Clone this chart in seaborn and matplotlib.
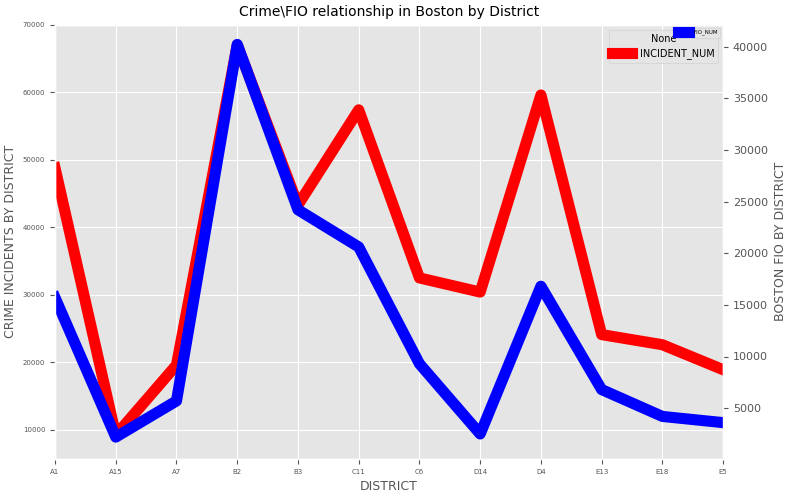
import matplotlib
matplotlib.use('Agg')
import matplotlib.pyplot as plt
import seaborn as sns
import pandas as pd

plt.style.use('ggplot')

districts = ['A1', 'A15', 'A7', 'B2', 'B3', 'C11', 'C6', 'D14', 'D4', 'E13', 'E18', 'E5']
incident_num = [48800, 9200, 19600, 67000, 43300, 57400, 32500, 30400, 59600, 24100, 22600, 18900]
fio_num = [15700, 2200, 5700, 40200, 24200, 20600, 9300, 2500, 16800, 6800, 4200, 3600]

df = pd.DataFrame({'DISTRICT': districts, 'INCIDENT_NUM': incident_num, 'FIO_NUM': fio_num})
df['pos'] = range(len(df))

fig, ax = plt.subplots(figsize=(7.86, 4.96), dpi=100)
fig.subplots_adjust(left=0.07, right=0.92, top=0.95, bottom=0.075)

sns.lineplot(data=df, x='pos', y='INCIDENT_NUM', ax=ax, color='red', linewidth=8, label='INCIDENT_NUM')
ax.set_xlim(0, len(df) - 1)
ax.set_ylim(5700, 70000)
ax.set_xticks(df['pos'])
ax.set_xticklabels(districts, fontsize=5)
ax.tick_params(axis='y', labelsize=5)
ax.set_xlabel('DISTRICT', fontsize=9)
ax.set_ylabel('CRIME INCIDENTS BY DISTRICT', fontsize=9)
ax.legend(title='None', loc='upper right', fontsize=7, title_fontsize=7)

ax2 = ax.twinx()
sns.lineplot(data=df, x='pos', y='FIO_NUM', ax=ax2, color='blue', linewidth=8, label='FIO_NUM')
ax2.set_ylim(100, 42100)
ax2.grid(False)
ax2.tick_params(axis='y', labelsize=8)
ax2.set_ylabel('BOSTON FIO BY DISTRICT', fontsize=9)
ax2.legend(loc='upper right', fontsize=4)

ax.set_title('Crime\\FIO relationship in Boston by District', fontsize=10)
fig.savefig('out.png', dpi=100)
